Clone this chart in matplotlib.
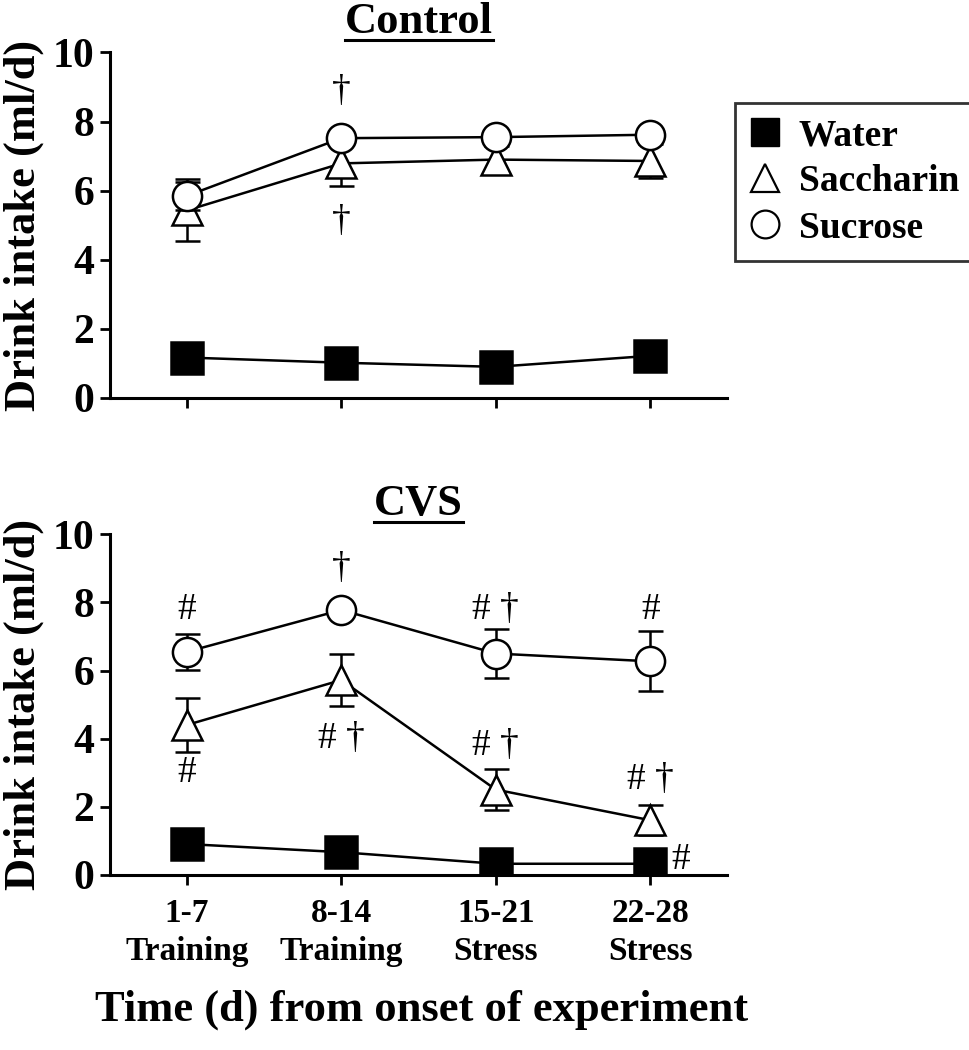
import numpy as np
import matplotlib.pyplot as plt
from matplotlib.lines import Line2D

plt.rcParams['font.family'] = ['Liberation Serif', 'DejaVu Serif']
plt.rcParams['font.weight'] = 'bold'

# Datos
periodos = ['1-7\nTraining', '8-14\nTraining', '15-21\nStress', '22-28\nStress']

ctrl_agua = [1.17, 1.02, 0.90, 1.22]
ctrl_agua_err = [0.25, 0.10, 0.10, 0.10]
ctrl_sac = [5.43, 6.79, 6.90, 6.86]
ctrl_sac_err = [0.90, 0.65, 0.40, 0.50]
ctrl_suc = [5.85, 7.52, 7.55, 7.62]
ctrl_suc_err = [0.40, 0.15, 0.15, 0.15]

cvs_agua = [0.90, 0.66, 0.32, 0.32]
cvs_agua_err = [0.10, 0.10, 0.10, 0.10]
cvs_sac = [4.40, 5.72, 2.50, 1.60]
cvs_sac_err = [0.80, 0.76, 0.60, 0.44]
cvs_suc = [6.55, 7.78, 6.50, 6.27]
cvs_suc_err = [0.53, 0.15, 0.72, 0.88]

# Anotaciones (x, y, texto)
ctrl_notas = [(1, 8.85, '†'), (1, 5.1, '†')]
cvs_notas = [(0, 7.8, '#'), (1, 9.0, '†'), (2, 7.8, '# †'), (3, 7.8, '#'),
             (0, 3.0, '#'), (1, 4.0, '# †'), (2, 3.8, '# †'), (3, 2.8, '# †'),
             (3.2, 0.45, '#')]

x = np.arange(len(periodos))

fig = plt.figure(figsize=(9.7, 10.5), dpi=100)
ax1 = fig.add_axes([0.113, 0.621, 0.637, 0.329])
ax2 = fig.add_axes([0.113, 0.167, 0.637, 0.324])


def panel(ax, agua, agua_err, sac, sac_err, suc, suc_err, notas):
    comun = dict(color='black', lw=1.8, elinewidth=1.8, capsize=9,
                 capthick=1.8, mec='black', mew=1.8)
    h_agua = ax.errorbar(x, agua, yerr=agua_err, marker='s', ms=23,
                         mfc='black', zorder=3, **comun)
    h_sac = ax.errorbar(x, sac, yerr=sac_err, marker='^', ms=22,
                        mfc='white', zorder=4, **comun)
    h_suc = ax.errorbar(x, suc, yerr=suc_err, marker='o', ms=21,
                        mfc='white', zorder=5, **comun)
    for xi, yi, t in notas:
        ax.text(xi, yi, t, ha='center', va='center', fontsize=27,
                fontweight='normal')
    ax.set_xlim(-0.5, 3.5)
    ax.set_ylim(0, 10)
    ax.set_yticks([0, 2, 4, 6, 8, 10])
    ax.set_xticks(x)
    ax.spines['top'].set_visible(False)
    ax.spines['right'].set_visible(False)
    for s in ['left', 'bottom']:
        ax.spines[s].set_linewidth(2.2)
    ax.tick_params(width=2, length=7, labelsize=30, pad=4)
    ax.set_ylabel('Drink intake (ml/d)', fontsize=32, fontweight='bold',
                  labelpad=6)
    return h_agua, h_sac, h_suc


panel(ax1, ctrl_agua, ctrl_agua_err, ctrl_sac, ctrl_sac_err,
      ctrl_suc, ctrl_suc_err, ctrl_notas)
panel(ax2, cvs_agua, cvs_agua_err, cvs_sac, cvs_sac_err,
      cvs_suc, cvs_suc_err, cvs_notas)

ax1.set_xticklabels([])
ax2.set_xticklabels(periodos, fontsize=24, linespacing=1.3)
ax2.tick_params(axis='x', labelsize=24, pad=10)

# Titulos subrayados
for ax, titulo in [(ax1, 'Control'), (ax2, 'CVS')]:
    ax.set_title(titulo, fontsize=32, fontweight='bold', pad=14)

fig.canvas.draw()
r = fig.canvas.get_renderer()
for ax in [ax1, ax2]:
    bb = ax.title.get_window_extent(r).transformed(fig.transFigure.inverted())
    fig.add_artist(Line2D([bb.x0, bb.x1], [bb.y0 + 0.002, bb.y0 + 0.002],
                          color='black', lw=2.2, transform=fig.transFigure))

fig.text(0.435, 0.038, 'Time (d) from onset of experiment', ha='center',
         va='center', fontsize=32, fontweight='bold')

# Leyenda
handles = [Line2D([], [], ls='none', marker='s', ms=20, mfc='black',
                  mec='black'),
           Line2D([], [], ls='none', marker='^', ms=20, mfc='white',
                  mec='black', mew=1.6),
           Line2D([], [], ls='none', marker='o', ms=20, mfc='white',
                  mec='black', mew=1.6)]
leg = fig.legend(handles, ['Water', 'Saccharin', 'Sucrose'],
                 loc='upper left', bbox_to_anchor=(735 / 970, 1 - 103 / 1050),
                 fontsize=27, frameon=True, fancybox=False, edgecolor='black',
                 handlelength=0.8, handletextpad=0.5, labelspacing=0.3,
                 borderpad=0.4, borderaxespad=0)
leg.get_frame().set_linewidth(2)

plt.savefig('out.png')
